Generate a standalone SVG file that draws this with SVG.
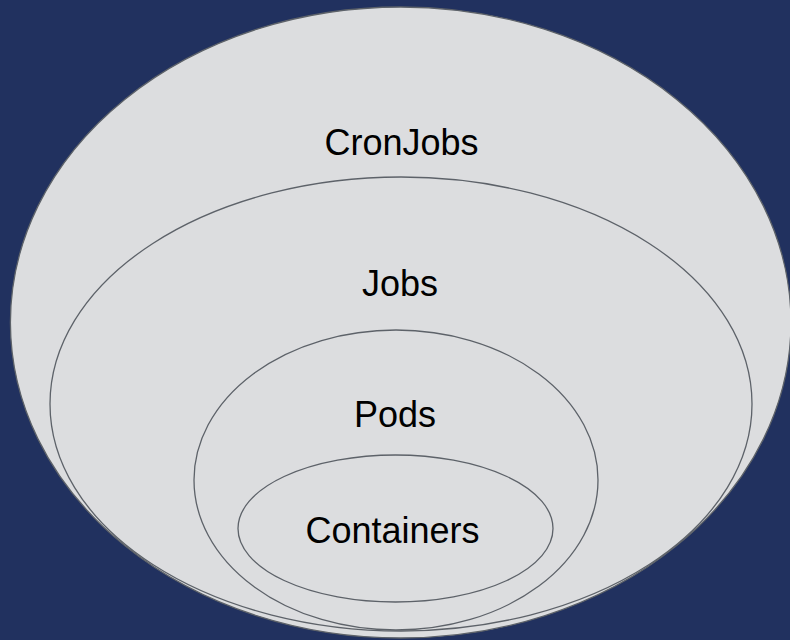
<svg xmlns="http://www.w3.org/2000/svg" width="790" height="640" viewBox="0 0 790 640">
  <style>
    .ring { fill: #dcdddf; stroke: #5d6269; stroke-width: 1.3; }
    .label { font-family: "Liberation Sans", Arial, sans-serif; font-size: 36px; fill: #000000; text-anchor: middle; }
  </style>
  <rect x="0" y="0" width="790" height="640" fill="#21315f"/>
  <g id="cronjobs">
    <ellipse class="ring" cx="400.7" cy="322.5" rx="390.3" ry="315.5"/>
    <text class="label" x="401.5" y="155">CronJobs</text>
  </g>
  <g id="jobs">
    <ellipse class="ring" cx="401" cy="404" rx="351" ry="227"/>
    <text class="label" x="400" y="296">Jobs</text>
  </g>
  <g id="pods">
    <ellipse class="ring" cx="396" cy="480" rx="202" ry="150"/>
    <text class="label" x="395" y="427">Pods</text>
  </g>
  <g id="containers">
    <ellipse class="ring" cx="395.5" cy="528.5" rx="157.5" ry="73.5"/>
    <text class="label" x="392.5" y="543">Containers</text>
  </g>
  <g id="connectors"></g>
</svg>
